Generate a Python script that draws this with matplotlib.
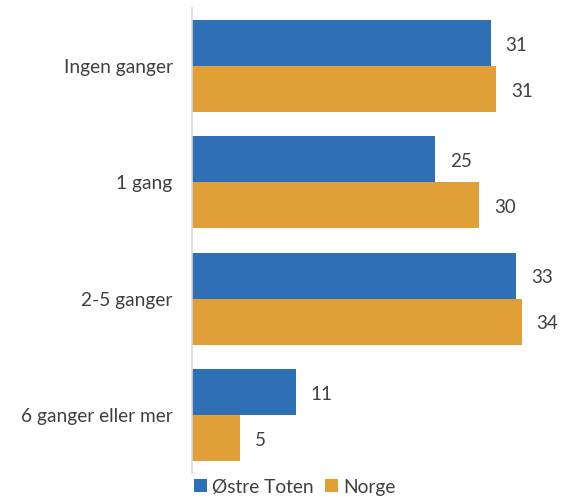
import matplotlib.pyplot as plt
import numpy as np

categories = ['Ingen ganger', '1 gang', '2-5 ganger', '6 ganger eller mer']
ostre_toten = [30.8, 25.1, 33.4, 10.7]
norge = [31.4, 29.6, 34.0, 4.95]

blue = '#2E6FB5'
orange = '#E09F37'
txt = '#404040'

plt.rcParams['font.family'] = ['Lato', 'DejaVu Sans']

fig = plt.figure(figsize=(5.72, 4.98), dpi=100)
ax = fig.add_axes([192 / 572, 25 / 498, 1 - 192 / 572 - 0.005, 465 / 498])

y = np.arange(len(categories))
h = 0.395
b1 = ax.barh(y - h / 2, ostre_toten, height=h, color=blue, label='Østre Toten')
b2 = ax.barh(y + h / 2, norge, height=h, color=orange, label='Norge')

for bars in (b1, b2):
    for rect in bars:
        w = rect.get_width()
        ax.text(w + 1.55, rect.get_y() + rect.get_height() / 2 + 0.02, f'{w:.0f}',
                va='center', ha='left', fontsize=13.5, color=txt)

ax.set_ylim(len(categories) - 0.5, -0.5)
ax.set_xlim(0, 38.9)
ax.set_yticks(y)
ax.set_yticklabels(categories, fontsize=13.8, color=txt)
ax.tick_params(axis='y', length=0, pad=14)
ax.set_xticks([])
for s in ['top', 'right', 'bottom']:
    ax.spines[s].set_visible(False)
ax.spines['left'].set_color('#D9D9D9')
ax.spines['left'].set_linewidth(1.2)

fig.legend(handles=[b1, b2], loc='center', bbox_to_anchor=(295 / 572, 11 / 498),
           ncol=2, frameon=False, fontsize=13.8, handlelength=0.65, handleheight=0.65,
           handletextpad=0.3, columnspacing=0.6, labelcolor=txt)

fig.savefig('out.png', dpi=100)
